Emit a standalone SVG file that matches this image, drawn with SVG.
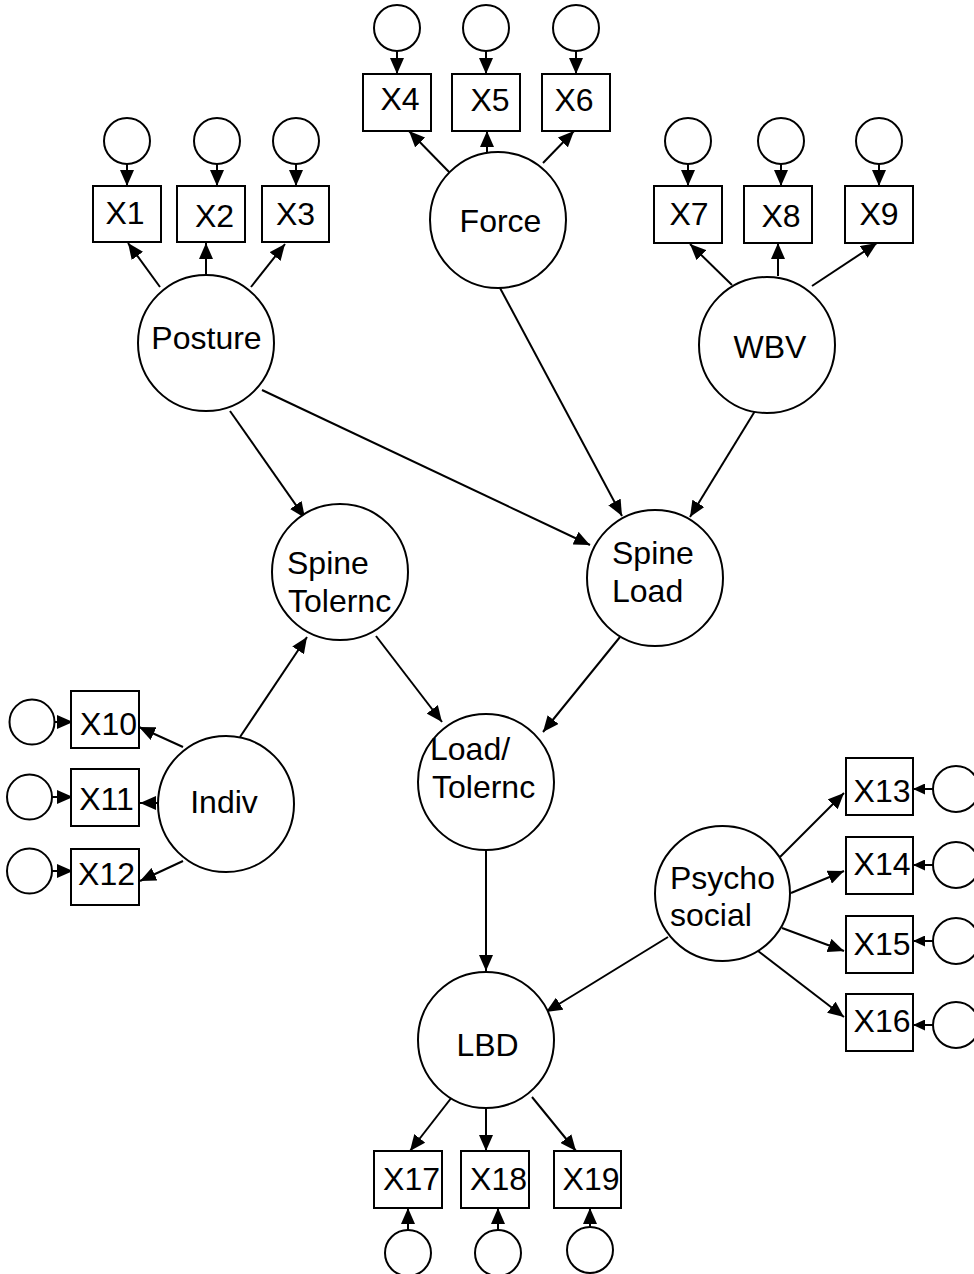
<svg xmlns="http://www.w3.org/2000/svg" width="974" height="1274" viewBox="0 0 974 1274">
<style>
.n{fill:#fff;stroke:#000;stroke-width:2}
.t{font-family:"Liberation Sans",Arial,sans-serif;font-size:32px;fill:#000}
.m{text-anchor:middle}
.c line{stroke:#000;stroke-width:2}
</style>
<defs>
<marker id="a" viewBox="0 0 16 14" refX="16" refY="7" markerWidth="16" markerHeight="14" markerUnits="userSpaceOnUse" orient="auto"><path d="M0,0 L16,7 L0,14 z" fill="#000"/></marker>
<marker id="s" viewBox="0 0 12 11" refX="12" refY="5.5" markerWidth="12" markerHeight="11" markerUnits="userSpaceOnUse" orient="auto"><path d="M0,0 L12,5.5 L0,11 z" fill="#000"/></marker>
</defs>
<rect width="974" height="1274" fill="#fff"/>
<g class="c" id="connectors">
<line x1="127" y1="164" x2="127" y2="186" marker-end="url(#a)"/>
<line x1="217" y1="164" x2="217" y2="186" marker-end="url(#a)"/>
<line x1="296" y1="164" x2="296" y2="186" marker-end="url(#a)"/>
<line x1="397" y1="51" x2="397" y2="74" marker-end="url(#a)"/>
<line x1="486" y1="51" x2="486" y2="74" marker-end="url(#a)"/>
<line x1="576" y1="51" x2="576" y2="74" marker-end="url(#a)"/>
<line x1="688" y1="164" x2="688" y2="186" marker-end="url(#a)"/>
<line x1="781" y1="164" x2="781" y2="186" marker-end="url(#a)"/>
<line x1="879" y1="164" x2="879" y2="186" marker-end="url(#a)"/>
<line x1="55" y1="722" x2="73" y2="722" marker-end="url(#a)"/>
<line x1="52" y1="797" x2="73" y2="797" marker-end="url(#a)"/>
<line x1="52" y1="871" x2="73" y2="871" marker-end="url(#a)"/>
<line x1="933" y1="789" x2="913" y2="789" marker-end="url(#s)"/>
<line x1="933" y1="865" x2="913" y2="865" marker-end="url(#s)"/>
<line x1="933" y1="941" x2="913" y2="941" marker-end="url(#s)"/>
<line x1="933" y1="1025" x2="913" y2="1025" marker-end="url(#s)"/>
<line x1="408" y1="1230" x2="408" y2="1208" marker-end="url(#a)"/>
<line x1="498" y1="1230" x2="498" y2="1208" marker-end="url(#a)"/>
<line x1="590" y1="1227" x2="590" y2="1208" marker-end="url(#a)"/>
<line x1="160" y1="287" x2="128" y2="243" marker-end="url(#a)"/>
<line x1="206" y1="275" x2="206" y2="243" marker-end="url(#a)"/>
<line x1="251" y1="287" x2="285" y2="244" marker-end="url(#a)"/>
<line x1="451" y1="174" x2="409" y2="131" marker-end="url(#a)"/>
<line x1="487" y1="152" x2="487" y2="131" marker-end="url(#a)"/>
<line x1="543" y1="163" x2="574" y2="131" marker-end="url(#a)"/>
<line x1="732" y1="285" x2="690" y2="244" marker-end="url(#a)"/>
<line x1="778" y1="276" x2="778" y2="243" marker-end="url(#a)"/>
<line x1="812" y1="286" x2="877" y2="243" marker-end="url(#a)"/>
<line x1="183" y1="747" x2="139" y2="727" marker-end="url(#a)"/>
<line x1="160" y1="803" x2="140" y2="803" marker-end="url(#a)"/>
<line x1="183" y1="861" x2="140" y2="881" marker-end="url(#a)"/>
<line x1="780" y1="857" x2="844" y2="793" marker-end="url(#a)"/>
<line x1="791" y1="893" x2="844" y2="871" marker-end="url(#a)"/>
<line x1="782" y1="928" x2="844" y2="951" marker-end="url(#a)"/>
<line x1="758" y1="951" x2="844" y2="1017" marker-end="url(#a)"/>
<line x1="230" y1="411" x2="305" y2="518" marker-end="url(#a)"/>
<line x1="262" y1="390" x2="590" y2="545" marker-end="url(#a)"/>
<line x1="500" y1="288" x2="622" y2="516" marker-end="url(#a)"/>
<line x1="755" y1="411" x2="690" y2="517" marker-end="url(#a)"/>
<line x1="376" y1="636" x2="442" y2="722" marker-end="url(#a)"/>
<line x1="620" y1="637" x2="543" y2="732" marker-end="url(#a)"/>
<line x1="240" y1="737" x2="307" y2="637" marker-end="url(#a)"/>
<line x1="486" y1="850" x2="486" y2="971" marker-end="url(#a)"/>
<line x1="668" y1="937" x2="546" y2="1012" marker-end="url(#a)"/>
<line x1="452" y1="1097" x2="410" y2="1151" marker-end="url(#a)"/>
<line x1="486" y1="1108" x2="486" y2="1151" marker-end="url(#a)"/>
<line x1="532" y1="1097" x2="576" y2="1151" marker-end="url(#a)"/>
</g>
<g id="posture"><circle class="n" cx="206" cy="343" r="68"/><text class="t m" x="206.5" y="349">Posture</text></g>
<g id="force"><circle class="n" cx="498" cy="220" r="68"/><text class="t m" x="500.5" y="232">Force</text></g>
<g id="wbv"><circle class="n" cx="767" cy="345" r="68"/><text class="t m" x="770" y="358">WBV</text></g>
<g id="spine-tolernc"><circle class="n" cx="340" cy="572" r="68"/><text class="t" x="287" y="574">Spine</text><text class="t" x="288" y="611.5">Tolernc</text></g>
<g id="spine-load"><circle class="n" cx="655" cy="578" r="68"/><text class="t" x="612" y="563.5">Spine</text><text class="t" x="612" y="601.5">Load</text></g>
<g id="load-tolernc"><circle class="n" cx="486" cy="782" r="68"/><text class="t" x="430" y="760">Load/</text><text class="t" x="432" y="797.5">Tolernc</text></g>
<g id="indiv"><circle class="n" cx="226" cy="804" r="68"/><text class="t m" x="224" y="812.5">Indiv</text></g>
<g id="psychosocial"><circle class="n" cx="722.5" cy="893.5" r="67.5"/><text class="t" x="670" y="888.5">Psycho</text><text class="t" x="670" y="926">social</text></g>
<g id="lbd"><circle class="n" cx="486" cy="1040" r="68"/><text class="t m" x="487.5" y="1055.5">LBD</text></g>
<g id="x1"><rect class="n" x="93" y="186" width="68" height="56"/><text class="t m" x="125" y="224">X1</text><circle class="n" cx="127" cy="141" r="23"/></g>
<g id="x2"><rect class="n" x="177" y="186" width="68" height="56"/><text class="t m" x="214.5" y="226.5">X2</text><circle class="n" cx="217" cy="141" r="23"/></g>
<g id="x3"><rect class="n" x="262" y="186" width="67" height="56"/><text class="t m" x="295.5" y="224.5">X3</text><circle class="n" cx="296" cy="141" r="23"/></g>
<g id="x4"><rect class="n" x="363" y="74" width="68" height="57"/><text class="t m" x="400" y="110">X4</text><circle class="n" cx="397" cy="28" r="23"/></g>
<g id="x5"><rect class="n" x="452" y="74" width="68" height="57"/><text class="t m" x="490" y="111">X5</text><circle class="n" cx="486" cy="28" r="23"/></g>
<g id="x6"><rect class="n" x="542" y="74" width="68" height="57"/><text class="t m" x="574" y="110.5">X6</text><circle class="n" cx="576" cy="28" r="23"/></g>
<g id="x7"><rect class="n" x="654" y="186" width="68" height="57"/><text class="t m" x="689" y="225">X7</text><circle class="n" cx="688" cy="141" r="23"/></g>
<g id="x8"><rect class="n" x="744" y="186" width="68" height="57"/><text class="t m" x="781" y="226.5">X8</text><circle class="n" cx="781" cy="141" r="23"/></g>
<g id="x9"><rect class="n" x="845" y="186" width="68" height="57"/><text class="t m" x="879" y="224.5">X9</text><circle class="n" cx="879" cy="141" r="23"/></g>
<g id="x10"><rect class="n" x="71" y="691" width="68" height="57"/><text class="t m" x="108.5" y="734.5">X10</text><circle class="n" cx="32" cy="722" r="22.5"/></g>
<g id="x11"><rect class="n" x="71" y="769" width="68" height="57"/><text class="t m" x="106.5" y="810">X11</text><circle class="n" cx="29.5" cy="797" r="22.5"/></g>
<g id="x12"><rect class="n" x="71" y="849" width="68" height="56"/><text class="t m" x="106.5" y="885">X12</text><circle class="n" cx="29.5" cy="871" r="22.5"/></g>
<g id="x13"><rect class="n" x="846" y="758" width="67" height="57"/><text class="t m" x="882" y="801.5">X13</text><circle class="n" cx="956" cy="789" r="23"/></g>
<g id="x14"><rect class="n" x="846" y="837" width="67" height="57"/><text class="t m" x="882" y="875">X14</text><circle class="n" cx="956" cy="865" r="23"/></g>
<g id="x15"><rect class="n" x="846" y="916" width="67" height="57"/><text class="t m" x="882" y="955">X15</text><circle class="n" cx="956" cy="941" r="23"/></g>
<g id="x16"><rect class="n" x="846" y="994" width="67" height="57"/><text class="t m" x="882" y="1031.5">X16</text><circle class="n" cx="956" cy="1025" r="23"/></g>
<g id="x17"><rect class="n" x="374" y="1151" width="68" height="57"/><text class="t m" x="411.5" y="1190">X17</text><circle class="n" cx="408" cy="1253" r="23"/></g>
<g id="x18"><rect class="n" x="461" y="1151" width="68" height="57"/><text class="t m" x="498.5" y="1190">X18</text><circle class="n" cx="498" cy="1253" r="23"/></g>
<g id="x19"><rect class="n" x="554" y="1151" width="67" height="57"/><text class="t m" x="591" y="1190">X19</text><circle class="n" cx="590" cy="1250" r="23"/></g>
</svg>
